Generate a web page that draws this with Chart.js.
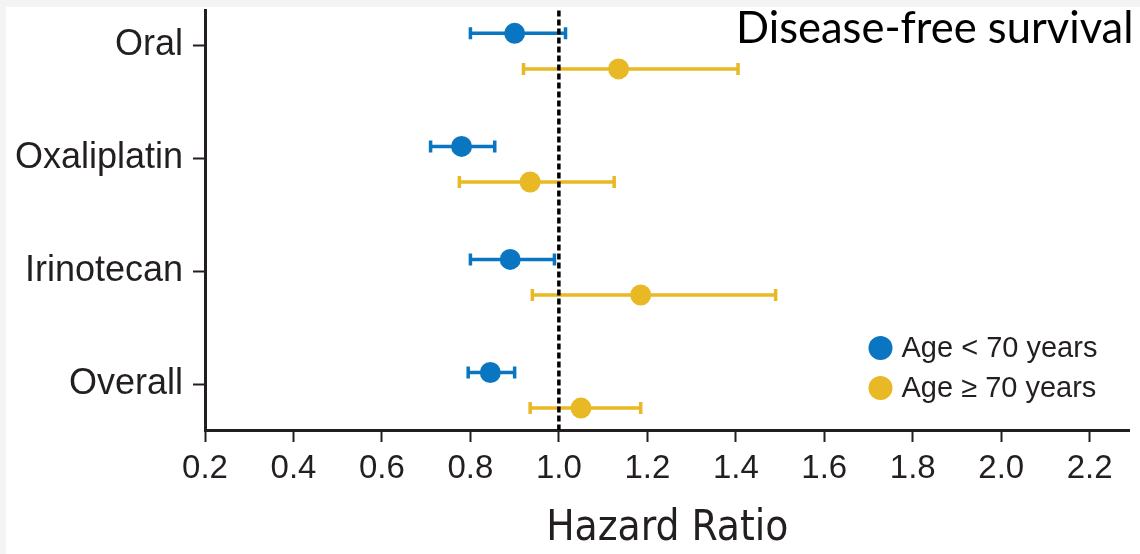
<!DOCTYPE html>
<html>
<head>
<meta charset="utf-8">
<script src="https://cdn.jsdelivr.net/npm/chart.js@4/dist/chart.umd.min.js"></script>
<style>
  html, body { margin: 0; padding: 0; background: #f4f4f4; }
  #wrap { width: 1140px; height: 554px; }
</style>
</head>
<body>
<div id="wrap"><canvas id="hr" width="1140" height="554"></canvas></div>
<script>
// ─── 数据 ──────────────────────────────────────────────────────────────
const categories  = ['Oral', 'Oxaliplatin', 'Irinotecan', 'Overall'];
const seriesNames = ['Age < 70 years', 'Age \u2265 70 years'];

// Age < 70
const hrYoung = [0.90, 0.78, 0.89, 0.845];
const loYoung = [0.80, 0.71, 0.80, 0.795];
const hiYoung = [1.015, 0.855, 0.99, 0.90];

// Age ≥ 70
const hrOld = [1.135, 0.935, 1.185, 1.05];
const loOld = [0.92, 0.775, 0.94, 0.935];
const hiOld = [1.405, 1.125, 1.49, 1.185];

const xTicks      = [0.2, 0.4, 0.6, 0.8, 1.0, 1.2, 1.4, 1.6, 1.8, 2.0, 2.2];
const xTickLabels = ['0.2', '0.4', '0.6', '0.8', '1.0', '1.2', '1.4', '1.6', '1.8', '2.0', '2.2'];
const refLine     = 1.0;
const panelTitle  = 'Disease-free survival';

// ─── 样式 ──────────────────────────────────────────────────────────────
const BLUE   = '#0a76c2';
const YELLOW = '#e8b924';
const INK    = '#231f20';
const FONT   = "'Liberation Sans', Arial, sans-serif";

// 每组内两点的上下偏移（y 轴以类别序号为单位）
const OFFSET_YOUNG = 0.105;
const OFFSET_OLD   = -0.21;
const rowOf = i => categories.length - i;

const groups = [
  { hr: hrYoung, lo: loYoung, hi: hiYoung, off: OFFSET_YOUNG, color: BLUE },
  { hr: hrOld,   lo: loOld,   hi: hiOld,   off: OFFSET_OLD,   color: YELLOW },
];

// ─── 插件：背景、误差线、参考线、图例、标题 ───────────────────────────
const backdrop = {
  id: 'backdrop',
  beforeDraw(chart) {
    const { ctx, width, height } = chart;
    ctx.save();
    ctx.fillStyle = '#f4f4f4';
    ctx.fillRect(0, 0, width, height);
    ctx.fillStyle = '#ffffff';
    ctx.fillRect(6, 7, width - 6, height - 7);
    ctx.restore();
  },
};

const errorBars = {
  id: 'errorBars',
  beforeDatasetsDraw(chart) {
    const { ctx, scales: { x, y } } = chart;
    ctx.save();
    ctx.lineWidth = 3.5;
    groups.forEach(g => {
      ctx.strokeStyle = g.color;
      g.hr.forEach((_, i) => {
        const py = y.getPixelForValue(rowOf(i) + g.off);
        const x0 = x.getPixelForValue(g.lo[i]);
        const x1 = x.getPixelForValue(g.hi[i]);
        ctx.beginPath();
        ctx.moveTo(x0, py); ctx.lineTo(x1, py);
        ctx.moveTo(x0, py - 6); ctx.lineTo(x0, py + 6);
        ctx.moveTo(x1, py - 6); ctx.lineTo(x1, py + 6);
        ctx.stroke();
      });
    });
    ctx.restore();
  },
};

const overlay = {
  id: 'overlay',
  afterDatasetsDraw(chart) {
    const { ctx, chartArea: a, scales: { x } } = chart;
    const px = x.getPixelForValue(refLine);
    ctx.save();
    ctx.strokeStyle = '#000';
    ctx.lineWidth = 3.5;
    ctx.setLineDash([6, 3]);
    ctx.beginPath();
    ctx.moveTo(px, a.top);
    ctx.lineTo(px, a.bottom);
    ctx.stroke();
    ctx.restore();
  },
  afterDraw(chart) {
    const { ctx, chartArea: a } = chart;
    ctx.save();
    // 图例
    ctx.font = `29px ${FONT}`;
    ctx.textBaseline = 'middle';
    ctx.textAlign = 'left';
    [BLUE, YELLOW].forEach((c, i) => {
      const cy = a.bottom - 82 + i * 40;
      ctx.fillStyle = c;
      ctx.beginPath();
      ctx.arc(a.right - 249, cy, 12, 0, Math.PI * 2);
      ctx.fill();
      ctx.fillStyle = INK;
      ctx.fillText(seriesNames[i], a.right - 228, cy + 1);
    });
    // 右上角标题
    ctx.font = "43.5px Lato, 'Open Sans', sans-serif";
    ctx.fillStyle = '#000';
    ctx.textAlign = 'right';
    ctx.textBaseline = 'alphabetic';
    ctx.fillText(panelTitle, a.right + 4, 43);
    ctx.restore();
  },
};

// ─── 图表 ──────────────────────────────────────────────────────────────
Chart.defaults.font.family = FONT;
Chart.defaults.color = INK;

new Chart(document.getElementById('hr'), {
  type: 'scatter',
  data: {
    datasets: groups.map((g, k) => ({
      label: seriesNames[k],
      data: g.hr.map((v, i) => ({ x: v, y: rowOf(i) + g.off })),
      backgroundColor: g.color,
      borderColor: g.color,
      borderWidth: 0,
      pointRadius: 10.5,
      pointHoverRadius: 10.5,
    })),
  },
  options: {
    responsive: false,
    animation: false,
    devicePixelRatio: 1,
    layout: { padding: { top: 7, right: 6, left: 0, bottom: 0 } },
    plugins: { legend: { display: false }, tooltip: { enabled: false } },
    scales: {
      x: {
        type: 'linear',
        min: 0.2,
        max: 2.29,
        afterBuildTicks: s => { s.ticks = xTicks.map(v => ({ value: v })); },
        afterFit: s => { s.height = 124; s.paddingLeft = 0; s.paddingRight = 0; },
        ticks: {
          callback: (v, i) => xTickLabels[i],
          font: { size: 33 },
          color: INK,
          padding: 7,
          maxRotation: 0,
        },
        grid: { drawOnChartArea: false, drawTicks: true, tickLength: 12, tickWidth: 2, tickColor: INK },
        border: { display: true, color: INK, width: 3 },
        title: {
          display: true,
          text: 'Hazard Ratio',
          color: INK,
          font: { family: "'Liberation Sans Narrow', 'DejaVu Sans Condensed', sans-serif", size: 42 },
          padding: { top: 10, bottom: 0 },
        },
      },
      y: {
        type: 'linear',
        min: 0.596,
        max: 4.307,
        afterBuildTicks: s => { s.ticks = categories.map((_, i) => ({ value: rowOf(i) })); },
        afterFit: s => { s.width = 205; s.paddingTop = 0; s.paddingBottom = 0; },
        ticks: {
          callback: v => categories[categories.length - v],
          font: { size: 36 },
          color: INK,
          padding: 10,
        },
        grid: { drawOnChartArea: false, drawTicks: true, tickLength: 12, tickWidth: 2, tickColor: INK },
        border: { display: true, color: INK, width: 3 },
      },
    },
  },
  plugins: [backdrop, errorBars, overlay],
});
</script>
</body>
</html>
